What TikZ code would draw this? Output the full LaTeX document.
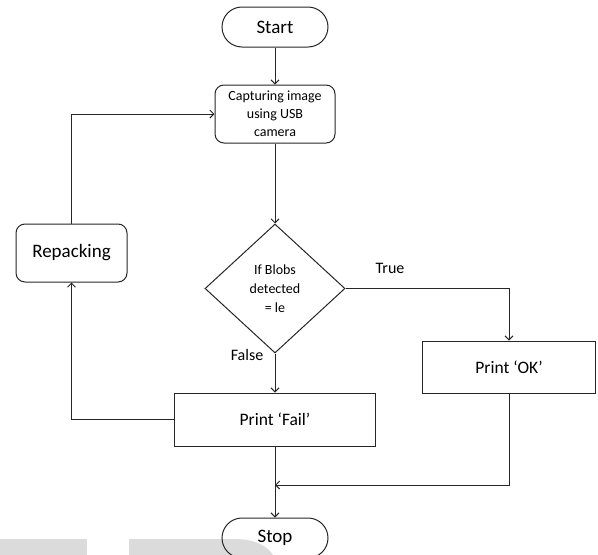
\documentclass[tikz,border=0pt]{standalone}
\usepackage{fontspec}
\setmainfont{Carlito}
\usetikzlibrary{shapes.geometric,arrows.meta}

\begin{document}
\begin{tikzpicture}[x=1pt,y=-1pt]
    \tikzstyle{term}=[draw=black!85,line width=1pt,rounded corners=20pt,minimum width=106pt,minimum height=40pt,inner sep=0pt,font=\fontsize{19}{23}\selectfont]
    \tikzstyle{proc}=[draw=black!85,line width=1pt,rounded corners=9pt,inner sep=0pt,align=center]
    \tikzstyle{io}=[draw=black!85,line width=1pt,inner sep=0pt,font=\fontsize{17.5}{21}\selectfont]
    \tikzstyle{cond}=[draw=black!85,line width=1pt,diamond,minimum width=140pt,minimum height=129pt,inner sep=0pt,align=center,font=\fontsize{14}{19}\selectfont]
    \tikzstyle{lbl}=[inner sep=0pt,font=\fontsize{16}{19}\selectfont]
    \tikzstyle{fwd} = [draw=black!85, line width=1pt, -{Straight Barb[length=4pt,width=8pt]}]

    \def\cx{275}

    \useasboundingbox (0,0) rectangle (598,555);

    % watermark shapes at the bottom
    \fill[black!14] (0,539) rectangle (87,555);
    \fill[black!14] (129,555) -- (129,539) -- (235,539) .. controls (256,539) and (268,547) .. (273,555) -- cycle;

    \node[term]  (start) at (\cx,27) {Start};
    \node[proc,minimum width=120pt,minimum height=58pt,font=\fontsize{14}{18}\selectfont]  (cap) at (\cx,114) {Capturing image\\using USB\\camera};
    \node[cond]  (dec) at (\cx,288.5) {If Blobs\\detected\\= le};
    \node[proc,minimum width=111pt,minimum height=58pt,font=\fontsize{19}{23}\selectfont]  (rep) at (71.5,253) {Repacking};
    \node[io,minimum width=173pt,minimum height=52pt]  (ok) at (509,367) {Print ‘OK’};
    \node[io,minimum width=201pt,minimum height=53pt]  (fail) at (\cx,419.5) {Print ‘Fail’};
    \node[term]  (stop) at (\cx,538) {Stop};

    \node[lbl]  (ltrue) at (390,268) {True};
    \node[lbl]  (lfalse) at (247,355) {False};
    \coordinate (join) at (\cx,485);

   \draw [fwd] (start) -- (cap);
   \draw [fwd] (cap) -- (dec);
   \draw [fwd] (dec.east) -| (ok.north);
   \draw [fwd] (dec.south) -- (fail);
   \draw [fwd] (fail.west) -| (rep.south);
   \draw [fwd] (rep.north) |- (cap.west);
   \draw [fwd] (fail) -- (stop);
   \draw [fwd] (ok.south) |- (join);

\end{tikzpicture}
\end{document}
